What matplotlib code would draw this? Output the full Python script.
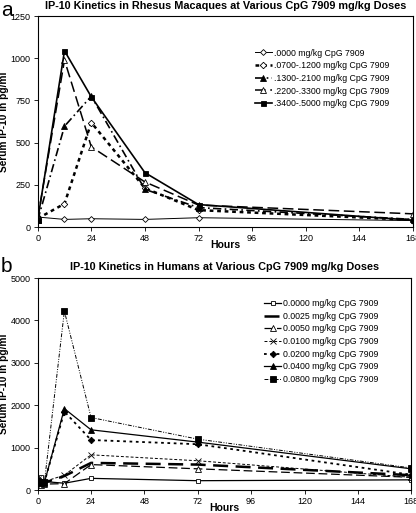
import matplotlib
matplotlib.use("Agg")
import matplotlib.pyplot as plt

plt.rcParams['font.family'] = ['Liberation Sans', 'DejaVu Sans']

# ---- Panel a: Rhesus macaques ----
hours_a = [0, 12, 24, 48, 72, 168]
labels_a = [".0000 mg/kg CpG 7909", ".0700-.1200 mg/kg CpG 7909",
            ".1300-.2100 mg/kg CpG 7909", ".2200-.3300 mg/kg CpG 7909",
            ".3400-.5000 mg/kg CpG 7909"]
rh_0000 = [59, 45, 49, 45, 55, 38]
rh_0700 = [50, 138, 619, 230, 100, 42]
rh_1300 = [40, 597, 775, 223, 115, 45]
rh_2200 = [50, 989, 475, 267, 130, 78]
rh_3400 = [40, 1044, 771, 322, 133, 40]
series_a = [rh_0000, rh_0700, rh_1300, rh_2200, rh_3400]

# ---- Panel b: Humans ----
hours_b = [0, 1.5, 3, 12, 24, 72, 168]
labels_b = ["0.0000 mg/kg CpG 7909", "0.0025 mg/kg CpG 7909", "0.0050 mg/kg CpG 7909",
            "0.0100 mg/kg CpG 7909", "0.0200 mg/kg CpG 7909", "0.0400 mg/kg CpG 7909",
            "0.0800 mg/kg CpG 7909"]
hu_0000 = [200, 300, 200, 160, 275, 220, 240]
hu_0025 = [180, 150, 170, 330, 640, 600, 350]
hu_0050 = [150, 120, 140, 150, 600, 500, 300]
hu_0100 = [250, 180, 200, 350, 830, 690, 300]
hu_0200 = [200, 170, 180, 1850, 1180, 1080, 360]
hu_0400 = [180, 160, 170, 1920, 1420, 1130, 500]
hu_0800 = [220, 190, 180, 4220, 1710, 1200, 520]
series_b = [hu_0000, hu_0025, hu_0050, hu_0100, hu_0200, hu_0400, hu_0800]

x_ticks = [0, 24, 48, 72, 96, 120, 144, 168]

fig = plt.figure(figsize=(4.16, 5.13), dpi=100)
ax1 = fig.add_axes([0.0906, 0.5575, 0.902, 0.4113])
ax2 = fig.add_axes([0.0906, 0.0448, 0.898, 0.4132])

styles_a = [
    dict(ls='-', lw=0.7, marker='D', ms=3.0, mfc='white'),
    dict(ls=(0, (1.5, 1.5)), lw=1.8, marker='D', ms=3.3, mfc='white'),
    dict(ls=(0, (5, 2, 1, 2)), lw=1.2, marker='^', ms=4.2, mfc='black'),
    dict(ls=(0, (7, 3)), lw=1.1, marker='^', ms=4.6, mfc='white'),
    dict(ls='-', lw=1.2, marker='s', ms=3.6, mfc='black'),
]
for y, lab, st in zip(series_a, labels_a, styles_a):
    ax1.plot(hours_a, y, color='black', mec='black', mew=0.6, label=lab, **st)

styles_b = [
    dict(ls='-', lw=0.9, marker='s', ms=3.0, mfc='white'),
    dict(ls=(0, (6, 3)), lw=1.8, marker=None),
    dict(ls=(0, (7, 3)), lw=0.9, marker='^', ms=3.8, mfc='white'),
    dict(ls=(0, (3, 2)), lw=0.7, marker='x', ms=5),
    dict(ls=(0, (1.5, 2)), lw=1.3, marker='D', ms=3.3, mfc='black'),
    dict(ls='-', lw=0.9, marker='^', ms=4.2, mfc='black'),
    dict(ls=(0, (4, 1.5, 1, 1.5, 1, 1.5)), lw=0.7, marker='s', ms=3.8, mfc='black'),
]
for y, lab, st in zip(series_b, labels_b, styles_b):
    ax2.plot(hours_b, y, color='black', mec='black', mew=0.6, label=lab, **st)

for ax in (ax1, ax2):
    ax.set_xlim(0, 168)
    ax.set_xticks(x_ticks)
    ax.tick_params(labelsize=6.5, length=3, width=0.6, direction='out', pad=2)
    for s in ax.spines.values():
        s.set_linewidth(0.8)
    ax.set_xlabel("Hours", fontsize=7.5, fontweight='bold', labelpad=-2)
    ax.set_ylabel("Serum IP-10 in pg/ml", fontsize=7.3, fontweight='bold', labelpad=1)

ax1.set_ylim(0, 1250)
ax1.set_yticks([0, 250, 500, 750, 1000, 1250])
ax2.set_ylim(0, 5000)
ax2.set_yticks([0, 1000, 2000, 3000, 4000, 5000])

ax1.set_title("IP-10 Kinetics in Rhesus Macaques at Various CpG 7909 mg/kg Doses",
              fontsize=7.8, fontweight='bold', pad=5)
ax2.set_title("IP-10 Kinetics in Humans at Various CpG 7909 mg/kg Doses",
              fontsize=7.8, fontweight='bold', pad=6)

ax1.legend(loc='upper right', bbox_to_anchor=(0.955, 0.875), frameon=False,
           fontsize=6.3, handlelength=1.9, labelspacing=0.42, borderpad=0.2,
           handletextpad=0.3)
ax2.legend(loc='upper right', bbox_to_anchor=(0.93, 0.93), frameon=False,
           fontsize=6.3, handlelength=1.9, labelspacing=0.42, borderpad=0.2,
           handletextpad=0.3)

fig.text(0.002, 0.998, "a", fontsize=15, va='top', ha='left')
fig.text(0.002, 0.500, "b", fontsize=15, va='top', ha='left')

fig.savefig("out.png", dpi=100)
